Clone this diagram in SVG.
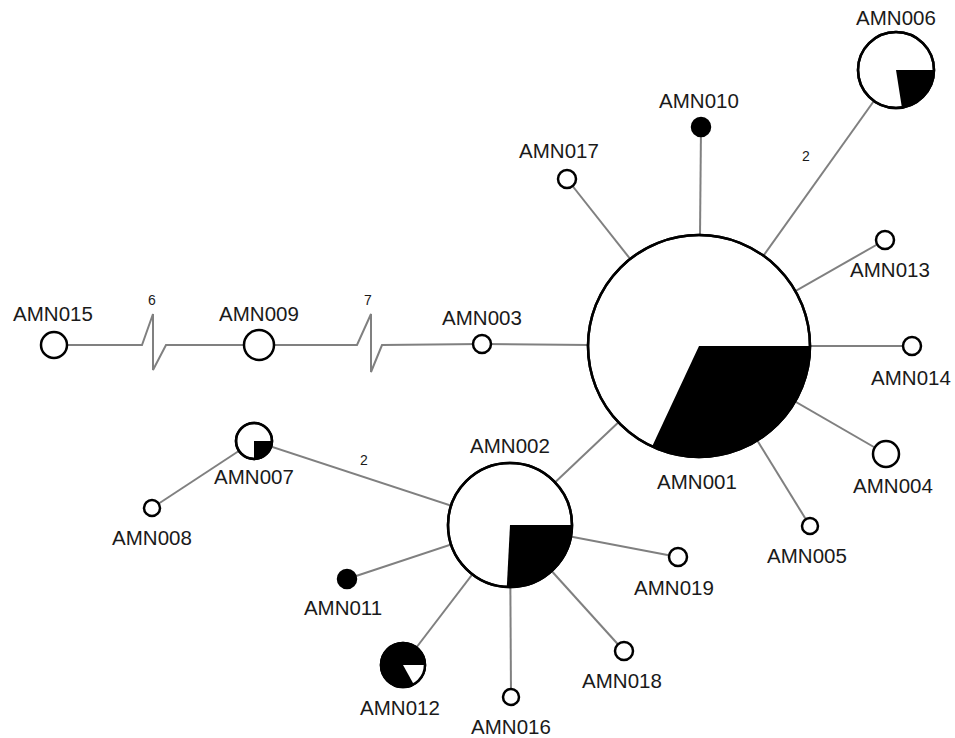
<svg xmlns="http://www.w3.org/2000/svg" width="955" height="738" viewBox="0 0 955 738">
<style>
.e{stroke:#808080;stroke-width:2;fill:none}
.n{fill:#fff;stroke:#000;stroke-width:2.5}
.b{fill:#000;stroke:#000;stroke-width:2.5}
.w{fill:#000;stroke:none}
.lb{font-family:"Liberation Sans",Arial,sans-serif;font-size:20.5px;fill:#1a1a1a;text-anchor:middle}
.nm{font-family:"Liberation Sans",Arial,sans-serif;font-size:14px;fill:#1a1a1a;text-anchor:middle}
</style>
<rect width="955" height="738" fill="#fff"/>
<g id="connectors">
<line class="e" x1="896" y1="70" x2="699" y2="346"/>
<line class="e" x1="701" y1="127" x2="699" y2="346"/>
<line class="e" x1="567" y1="179" x2="699" y2="346"/>
<line class="e" x1="885" y1="240" x2="699" y2="346"/>
<line class="e" x1="912" y1="346" x2="699" y2="346"/>
<line class="e" x1="886" y1="454" x2="699" y2="346"/>
<line class="e" x1="810" y1="526" x2="699" y2="346"/>
<line class="e" x1="482" y1="344" x2="699" y2="346"/>
<line class="e" x1="510" y1="525" x2="699" y2="346"/>
<polyline class="e" points="54,345 142,345 153,314 153,370 166,345 259,345"/>
<polyline class="e" points="259,345 357,345 371,314 371,372 382,345 482,344"/>
<line class="e" x1="254" y1="441" x2="510" y2="525"/>
<line class="e" x1="152" y1="508" x2="254" y2="441"/>
<line class="e" x1="347" y1="579" x2="510" y2="525"/>
<line class="e" x1="403" y1="665" x2="510" y2="525"/>
<line class="e" x1="511" y1="697" x2="510" y2="525"/>
<line class="e" x1="624" y1="651" x2="510" y2="525"/>
<line class="e" x1="678" y1="557" x2="510" y2="525"/>
<text class="nm" x="806" y="161">2</text>
<text class="nm" x="152" y="305">6</text>
<text class="nm" x="368" y="305">7</text>
<text class="nm" x="364" y="465">2</text>
</g>
<g id="AMN001">
<circle class="n" cx="699" cy="346" r="111"/>
<path class="w" d="M699,346 L810,346 A111,111 0 0 1 652.1,446.6 Z"/>
<circle cx="699" cy="346" r="111" fill="none" stroke="#000" stroke-width="2.5"/>
<text class="lb" x="697" y="489">AMN001</text>
</g>
<g id="AMN002">
<circle class="n" cx="510" cy="525" r="62"/>
<path class="w" d="M510,525 L572,525 A62,62 0 0 1 506.8,586.9 Z"/>
<circle cx="510" cy="525" r="62" fill="none" stroke="#000" stroke-width="2.5"/>
<text class="lb" x="510" y="453">AMN002</text>
</g>
<g id="AMN003">
<circle class="n" cx="482" cy="344" r="9"/>
<text class="lb" x="482" y="325">AMN003</text>
</g>
<g id="AMN004">
<circle class="n" cx="886" cy="454" r="13"/>
<text class="lb" x="893" y="493">AMN004</text>
</g>
<g id="AMN005">
<circle class="n" cx="810" cy="526" r="8"/>
<text class="lb" x="807" y="563">AMN005</text>
</g>
<g id="AMN006">
<circle class="n" cx="896" cy="70" r="38"/>
<path class="w" d="M896,70 L934,70 A38,38 0 0 1 901.9,107.5 Z"/>
<circle cx="896" cy="70" r="38" fill="none" stroke="#000" stroke-width="2.5"/>
<text class="lb" x="896" y="25">AMN006</text>
</g>
<g id="AMN007">
<circle class="n" cx="254" cy="441" r="18"/>
<path class="w" d="M254,441 L272,441 A18,18 0 0 1 254,459 Z"/>
<circle cx="254" cy="441" r="18" fill="none" stroke="#000" stroke-width="2.5"/>
<text class="lb" x="254" y="484">AMN007</text>
</g>
<g id="AMN008">
<circle class="n" cx="152" cy="508" r="8"/>
<text class="lb" x="152" y="545">AMN008</text>
</g>
<g id="AMN009">
<circle class="n" cx="259" cy="345" r="15"/>
<text class="lb" x="259" y="321">AMN009</text>
</g>
<g id="AMN010">
<circle class="b" cx="701" cy="127" r="9"/>
<text class="lb" x="699" y="108">AMN010</text>
</g>
<g id="AMN011">
<circle class="b" cx="347" cy="579" r="9"/>
<text class="lb" x="343" y="615">AMN011</text>
</g>
<g id="AMN012">
<circle class="b" cx="403" cy="665" r="22"/>
<path d="M403,665 L425,665 A22,22 0 0 1 413.7,684.2 Z" fill="#fff"/>
<circle cx="403" cy="665" r="22" fill="none" stroke="#000" stroke-width="2.5"/>
<text class="lb" x="400" y="715">AMN012</text>
</g>
<g id="AMN013">
<circle class="n" cx="885" cy="240" r="9"/>
<text class="lb" x="890" y="277">AMN013</text>
</g>
<g id="AMN014">
<circle class="n" cx="912" cy="346" r="9"/>
<text class="lb" x="911" y="385">AMN014</text>
</g>
<g id="AMN015">
<circle class="n" cx="54" cy="345" r="13"/>
<text class="lb" x="53" y="321">AMN015</text>
</g>
<g id="AMN016">
<circle class="n" cx="511" cy="697" r="8"/>
<text class="lb" x="511" y="734">AMN016</text>
</g>
<g id="AMN017">
<circle class="n" cx="567" cy="179" r="9"/>
<text class="lb" x="559" y="158">AMN017</text>
</g>
<g id="AMN018">
<circle class="n" cx="624" cy="651" r="9"/>
<text class="lb" x="622" y="688">AMN018</text>
</g>
<g id="AMN019">
<circle class="n" cx="678" cy="557" r="9"/>
<text class="lb" x="674" y="595">AMN019</text>
</g>
</svg>
